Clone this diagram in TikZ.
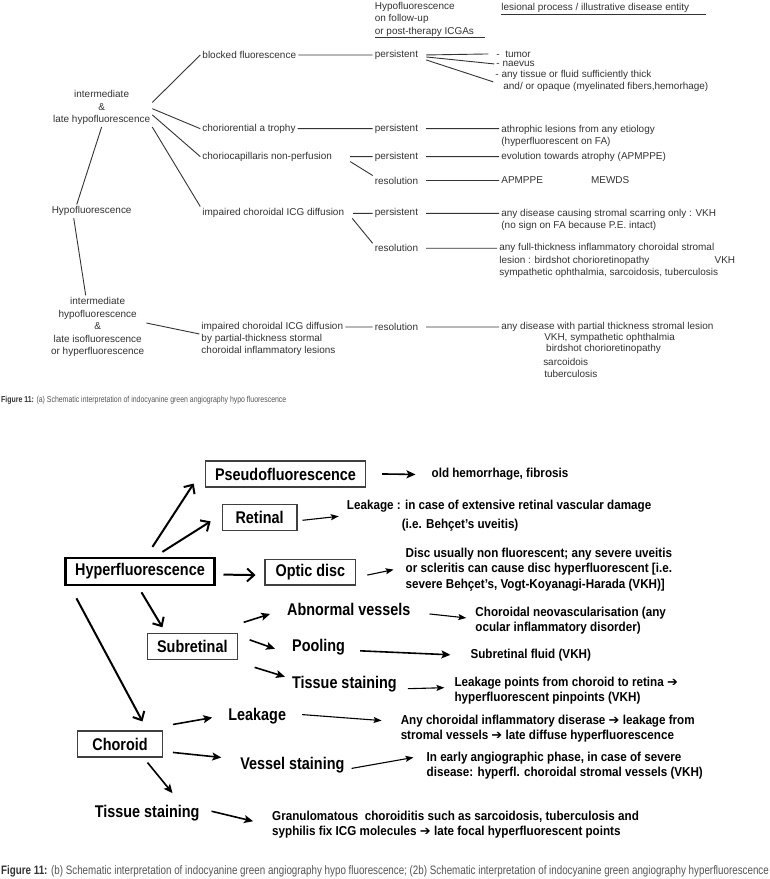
\documentclass[tikz,border=0pt]{standalone}
\usepackage{fontspec}
\setmainfont{Liberation Sans}
\newfontfamily\narrowfont[FakeStretch=0.85]{Liberation Sans}
\newfontfamily\notefont[FakeStretch=0.9]{Liberation Sans}
\newfontfamily\capfont[FakeStretch=0.8]{Liberation Sans}
\newfontfamily\symfont{DejaVu Sans}
\newcommand{\harr}{{\symfont\bfseries ➔}}
\usetikzlibrary{arrows.meta}
\definecolor{inkgray}{HTML}{333333}
\definecolor{capgray}{HTML}{555555}

\begin{document}
\begin{tikzpicture}[x=1pt, y=-1pt,
  hypo text/.style={font=\fontsize{10}{12.5}\selectfont, text=inkgray, inner sep=2pt, align=left},
  hypo line/.style={draw=inkgray, line width=0.9pt},
  hyper box/.style={draw=black!75, line width=1.2pt, font=\narrowfont\bfseries\fontsize{17}{20}\selectfont, minimum height=26pt, inner sep=0pt},
  hyper label/.style={font=\narrowfont\bfseries\fontsize{17}{20}\selectfont, inner sep=2pt, anchor=west},
  hyper note/.style={font=\notefont\bfseries\fontsize{13}{15.5}\selectfont, inner sep=0pt, align=left, anchor=west},
  big arrow/.style={line width=2pt, -{Straight Barb[length=7pt,width=13pt]}},
  mid arrow/.style={line width=1.6pt, -{Stealth[length=9pt,width=8pt,inset=2pt]}},
  note arrow/.style={line width=1.1pt, -{Stealth[length=8pt,width=6pt,inset=1.5pt]}},
  caption/.style={text=capgray, inner sep=0pt, anchor=west}]

\fill[white] (0,0) rectangle (772,879);

% (a) hypofluorescence
\node[hypo text, anchor=west] (follow) at (374,17) {Hypofluorescence\\on follow-up\\\underline{or post-therapy ICGAs\hspace*{11pt}}};
\node[hypo text, anchor=west] (entity) at (501,6) {\underline{lesional process / illustrative disease entity\hspace*{17pt}}};

\node[hypo text, align=center] (lateA) at (102,105) {intermediate\\\&\\late hypofluorescence};
\node[hypo text] (hypo) at (92,209) {Hypofluorescence};
\node[hypo text, align=center] (lateB) at (98,325) {intermediate\\hypofluorescence\\\&\\late isofluorescence\\or hyperfluorescence};

\node[hypo text, anchor=west] (blocked) at (201,52) {blocked fluorescence};
\node[hypo text, anchor=west] (atrophy) at (201,126) {choriorential a trophy};
\node[hypo text, anchor=west] (nonperf) at (201,154) {choriocapillaris non-perfusion};
\node[hypo text, anchor=west] (impA) at (201,211) {impaired choroidal ICG diffusion};
\node[hypo text, anchor=west] (impB) at (200,337) {impaired choroidal ICG diffusion\\by partial-thickness stormal\\choroidal inflammatory lesions};

\node[hypo text, anchor=west] (per1) at (374,52) {persistent};
\node[hypo text, anchor=west] (per2) at (374,126) {persistent};
\node[hypo text, anchor=west] (per3) at (374,154) {persistent};
\node[hypo text, anchor=west] (res1) at (374,178) {resolution};
\node[hypo text, anchor=west] (per4) at (374,211) {persistent};
\node[hypo text, anchor=west] (res2) at (374,246) {resolution};
\node[hypo text, anchor=west] (res3) at (374,325) {resolution};

\node[hypo text, anchor=west] (tumor) at (496,51) {-\ \ tumor};
\node[hypo text, anchor=west] (naevus) at (496,61) {- naevus};
\node[hypo text, anchor=west] (tissue) at (495,78) {- any tissue or fluid sufficiently thick\\\hspace*{8pt}and/ or opaque (myelinated fibers,hemorhage)};
\node[hypo text, anchor=west] (atroph) at (501,133) {athrophic lesions from any etiology\\(hyperfluorescent on FA)};
\node[hypo text, anchor=west] (evol) at (501,154) {evolution towards atrophy (APMPPE)};
\node[hypo text, anchor=west] (apmppe) at (501,178) {APMPPE};
\node[hypo text, anchor=west] (mewds) at (591,178) {MEWDS};
\node[hypo text, anchor=west] (scar) at (501,217.5) {any disease causing stromal scarring only : VKH\\(no sign on FA because P.E. intact)};
\node[hypo text, anchor=west] (full) at (499,258.5) {any full-thickness inflammatory choroidal stromal\\lesion : birdshot chorioretinopathy\\sympathetic ophthalmia, sarcoidosis, tuberculosis};
\node[hypo text, anchor=west] (vkh) at (715,258) {VKH};
\node[hypo text, anchor=west] (partial) at (501,325) {any disease with partial thickness stromal lesion};
\node[hypo text, anchor=west] (sympath) at (544,336) {VKH, sympathetic ophthalmia};
\node[hypo text, anchor=west] (birdshot) at (546,347) {birdshot chorioretinopathy};
\node[hypo text, anchor=west] (sarc) at (543,360) {sarcoidois};
\node[hypo text, anchor=west] (tuber) at (544,372) {tuberculosis};

\draw[hypo line] (lateA.6) -- (blocked.west)
  (lateA.-1) -- (atrophy.west)
  (lateA.-8) -- (nonperf.west)
  (lateA.south east) -- (impA.north west)
  (lateA.south) -- ([xshift=-15]hypo.north)
  ([xshift=-18]hypo.south) -- ([xshift=-12]lateB.north)
  ([yshift=4]lateB.east) -- ([yshift=5]impB.west);
\draw[hypo line] (blocked.east) -- (per1.west)
  (atrophy.east) -- (per2.west)
  ([xshift=16]nonperf.east) -- (per3.west)
  ([xshift=16,yshift=-5]nonperf.east) -- ([yshift=5]res1.west)
  ([xshift=7]impA.east) -- (per4.west)
  ([xshift=6,yshift=-5]impA.east) -- ([yshift=5]res2.west)
  ([yshift=12]impB.east) -- (res3.west);
\draw[hypo line] ([xshift=6]per1.east) -- ([xshift=-6]tumor.west)
  ([xshift=6,yshift=-2]per1.east) -- (naevus.west)
  ([xshift=6,yshift=-5]per1.east) -- ([yshift=-1]tissue.west)
  ([xshift=6]per2.east) -- ([yshift=7]atroph.west)
  ([xshift=6]per3.east) -- (evol.west)
  ([xshift=6]res1.east) -- (apmppe.west)
  ([xshift=6]per4.east) -- ([yshift=6.5]scar.west)
  ([xshift=6]res2.east) -- ([yshift=12.5]full.west)
  ([xshift=6]res3.east) -- (partial.west);

\node[caption, font=\capfont\fontsize{8.7}{10}\selectfont] (capA) at (1,399) {{\color{black!80}\bfseries Figure 11:} (a) Schematic interpretation of indocyanine green angiography hypo fluorescence};

% (b) hyperfluorescence
\node[hyper box, minimum width=161pt] (pseudo) at (286.5,472.5) {Pseudofluorescence};
\node[hyper box, minimum width=75pt] (retinal) at (260.5,516.5) {Retinal};
\node[hyper box, minimum width=149pt, minimum height=27pt, line width=2.6pt, draw=black] (hyper) at (140.5,570.5) {Hyperfluorescence};
\node[hyper box, minimum width=91pt] (optic) at (311.5,571) {Optic disc};
\node[hyper box, minimum width=90pt] (subret) at (193,646) {Subretinal};
\node[hyper box, minimum width=85pt] (choroid) at (120.5,743.5) {Choroid};

\node[hyper label] (abnormal) at (286,608) {Abnormal vessels};
\node[hyper label] (pooling) at (291,646) {Pooling};
\node[hyper label] (stainS) at (291,683) {Tissue staining};
\node[hyper label] (leakC) at (227,716) {Leakage};
\node[hyper label] (vessel) at (239,765) {Vessel staining};
\node[hyper label] (stainC) at (93,813) {Tissue staining};

\node[hyper note] (fibrosis) at (433,473) {old hemorrhage, fibrosis};
\node[hyper note] (leakR) at (348,505) {Leakage : in case of extensive retinal vascular damage};
\node[hyper note] (behcet) at (403,524) {(i.e. Behçet’s uveitis)};
\node[hyper note] (disc) at (407,568.5) {Disc usually non fluorescent; any severe uveitis\\or scleritis can cause disc hyperfluorescent [i.e.\\severe Behçet’s, Vogt-Koyanagi-Harada (VKH)]};
\node[hyper note] (cnv) at (477,619.5) {Choroidal neovascularisation (any\\ocular inflammatory disorder)};
\node[hyper note] (fluid) at (472,654) {Subretinal fluid (VKH)};
\node[hyper note] (pinpoint) at (456,690) {Leakage points from choroid to retina \harr\\hyperfluorescent pinpoints (VKH)};
\node[hyper note] (diffuse) at (402,728) {Any choroidal inflammatory diserase \harr{} leakage from\\stromal vessels \harr{} late diffuse hyperfluorescence};
\node[hyper note] (early) at (428,765.5) {In early angiographic phase, in case of severe\\disease: hyperfl. choroidal stromal vessels (VKH)};
\node[hyper note] (granul) at (273,824.5) {Granulomatous\ \ choroiditis such as sarcoidosis, tuberculosis and\\syphilis fix ICG molecules \harr{} late focal hyperfluorescent points};

\draw[big arrow] ([xshift=12.5,yshift=10]hyper.north) -- ([xshift=-11,yshift=4]pseudo.south west);
\draw[big arrow] ([xshift=22.5,yshift=5]hyper.north) -- ([xshift=-11,yshift=10]retinal.south west);
\draw[big arrow] ([xshift=8,yshift=-3]hyper.east) -- ([xshift=-9,yshift=-3]optic.west);
\draw[big arrow] ([xshift=1.5,yshift=-6]hyper.south) -- ([xshift=-30,yshift=6]subret.north);
\draw[big arrow] ([xshift=12,yshift=-12]hyper.south west) -- ([xshift=22.5,yshift=9]choroid.north);

\draw[mid arrow] ([xshift=16]pseudo.east) -- ([xshift=-16]fibrosis.west);
\draw[note arrow] ([xshift=5,yshift=-2.5]retinal.east) -- ([xshift=-8,yshift=-10]leakR.west);
\draw[note arrow] ([xshift=11,yshift=-3]optic.east) -- ([xshift=-12]disc.west);
\draw[mid arrow] ([xshift=6,yshift=11]subret.north east) -- ([xshift=-15,yshift=-5]abnormal.west);
\draw[mid arrow] ([xshift=12,yshift=7]subret.east) -- ([xshift=-15,yshift=-2]pooling.west);
\draw[mid arrow] ([xshift=17,yshift=-7]subret.south east) -- ([xshift=-5,yshift=7]stainS.west);
\draw[note arrow] ([xshift=17,yshift=-5]abnormal.east) -- ([xshift=-9,yshift=2.5]cnv.west);
\draw[mid arrow] ([xshift=13,yshift=-4]pooling.east) -- ([xshift=-20]fluid.west);
\draw[note arrow] ([xshift=9,yshift=-5]stainS.east) -- ([xshift=-10,yshift=3]pinpoint.west);
\draw[mid arrow] ([xshift=10,yshift=6]choroid.north east) -- ([xshift=-14,yshift=-1]leakC.west);
\draw[mid arrow] ([xshift=10,yshift=-8.5]choroid.east) -- ([xshift=-17,yshift=8]vessel.west);
\draw[mid arrow] ([xshift=27.5,yshift=-5]choroid.south) -- ([xshift=25.5,yshift=10]stainC.north);
\draw[note arrow] ([xshift=14,yshift=2]leakC.east) -- ([xshift=-19,yshift=8]diffuse.west);
\draw[note arrow] ([xshift=5,yshift=-3]vessel.east) -- ([xshift=-13,yshift=8.5]early.west);
\draw[mid arrow] ([xshift=10,yshift=2]stainC.east) -- ([xshift=-19,yshift=3.5]granul.west);

\node[caption, font=\capfont\fontsize{12.3}{14}\selectfont] (capB) at (1,871) {{\color{black!80}\bfseries Figure 11:} (b) Schematic interpretation of indocyanine green angiography hypo fluorescence; (2b) Schematic interpretation of indocyanine green angiography hyperfluorescence};
\end{tikzpicture}
\end{document}
